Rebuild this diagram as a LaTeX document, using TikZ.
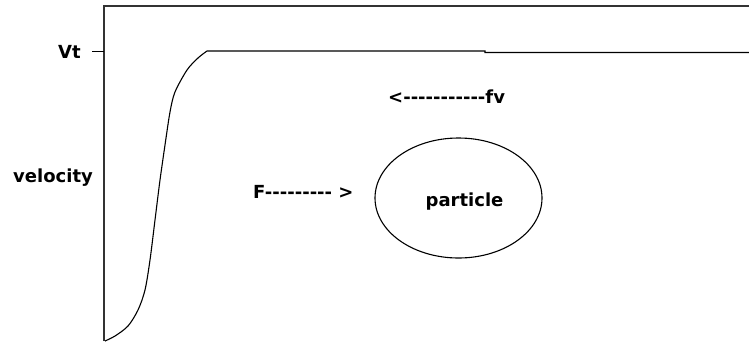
\documentclass[tikz,border=0pt]{standalone}
\usepackage{fontspec}
\setmainfont{DejaVu Sans}
\usetikzlibrary{shapes.geometric}
\newcommand{\hy}{-\kern0pt}
\begin{document}
\begin{tikzpicture}[x=1pt,y=-1pt,
  lbl/.style={inner sep=0pt, font=\fontsize{18}{21}\selectfont\bfseries},
  axis/.style={line width=1.6pt, draw=black!80},
  thin/.style={line width=1.1pt}]
\useasboundingbox (0,0) rectangle (749,341);
% axes
\coordinate (top) at (104,6);
\coordinate (bot) at (104,341);
\coordinate (right) at (749,6);
\draw[axis] (bot) -- (top) -- (right);
% Vt tick
\coordinate (tickL) at (92,51.5);
\coordinate (tickR) at (104,51.5);
\draw[thin] (tickL) -- (tickR);
% curve
\draw[thin] plot[smooth, tension=0.5] coordinates {(105,341) (115,336) (128,326) (138,310) (145,290) (150,260) (155,220) (160,180) (165,145) (170,112) (175,92) (187,70) (198,58) (207,51)}
  -- (485,51) -- (485,52.5) -- (749,52.5);
% labels
\node[lbl, anchor=west] (vt) at (58,52) {Vt};
\node[lbl, anchor=west] (vel) at (13,178) {velocity};
\node[lbl, anchor=west] (F) at (253,192) {F\hy\hy\hy\hy\hy\hy\hy\hy\hy\ {>}};
\node[lbl, anchor=west] (fv) at (388,97) {<\hy\hy\hy\hy\hy\hy\hy\hy\hy\hy\hy fv};
% particle
\node[ellipse, draw, thin, minimum width=167pt, minimum height=120pt, inner sep=0pt] (p) at (458.5,198) {};
\node[lbl] (ptxt) at (464.5,202) {particle};
\end{tikzpicture}
\end{document}
